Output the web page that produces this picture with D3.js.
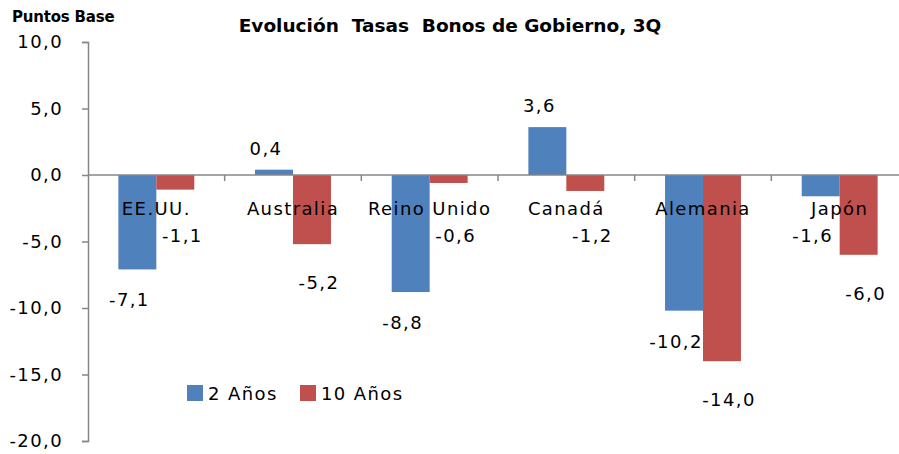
<!DOCTYPE html>
<html>
<head>
<meta charset="utf-8">
<script src="https://cdn.jsdelivr.net/npm/d3@7"></script>
<style>
  html, body { margin: 0; padding: 0; background: #fff; }
  text { font-family: "DejaVu Sans", sans-serif; fill: #000; }
</style>
</head>
<body>
<div id="chart"></div>
<script>
const categories = ["EE.UU.", "Australia", "Reino Unido", "Canadá", "Alemania", "Japón"];
const seriesNames = ["2 Años", "10 Años"];
const twoYears = [-7.1, 0.4, -8.8, 3.6, -10.2, -1.6];
const tenYears = [-1.1, -5.2, -0.6, -1.2, -14.0, -6.0];
const yTicks = [10, 5, 0, -5, -10, -15, -20];

const width = 899,
  height = 454;
const colors = ["#4F81BD", "#C0504D"];

const locale = d3.formatLocale({
  decimal: ",",
  thousands: ".",
  grouping: [3],
  currency: ["", ""],
  minus: "-",
});
const fmt = locale.format(".1f");

const svg = d3
  .select("#chart")
  .append("svg")
  .attr("width", width)
  .attr("height", height);

const x0 = d3.scaleBand().domain(categories).range([88, 908]);
const x1 = d3
  .scaleBand()
  .domain(seriesNames)
  .range([0, x0.bandwidth()])
  .paddingOuter(0.8);
const y = d3.scaleLinear().domain([-20, 10]).range([441, 42]);

const rows = categories.map((c, i) => ({
  cat: c,
  vals: [twoYears[i], tenYears[i]].map((v, j) => ({ cat: c, s: seriesNames[j], j, v })),
}));

// title
svg
  .append("text")
  .attr("x", 450)
  .attr("y", 32)
  .attr("text-anchor", "middle")
  .attr("font-size", "18.5px")
  .attr("font-weight", "bold")
  .style("white-space", "pre")
  .text("Evolución  Tasas  Bonos de Gobierno, 3Q");

svg
  .append("text")
  .attr("x", 12)
  .attr("y", 22)
  .attr("font-size", "15px")
  .attr("font-weight", "bold")
  .attr("letter-spacing", "-0.2px")
  .text("Puntos Base");

// bars
const groups = svg
  .append("g")
  .selectAll("g")
  .data(rows)
  .join("g")
  .attr("transform", (d) => `translate(${x0(d.cat)},0)`);

groups
  .selectAll("rect")
  .data((d) => d.vals)
  .join("rect")
  .attr("x", (d) => x1(d.s))
  .attr("width", x1.bandwidth())
  .attr("y", (d) => y(Math.max(0, d.v)))
  .attr("height", (d) => Math.abs(y(d.v) - y(0)))
  .attr("fill", (d) => colors[d.j]);

// y axis
const yAxis = svg
  .append("g")
  .attr("transform", "translate(88,0)")
  .call(
    d3
      .axisLeft(y)
      .tickValues(yTicks)
      .tickSize(6)
      .tickPadding(19)
      .tickFormat(fmt)
  );
yAxis.selectAll("path, line").attr("stroke", "#868686").attr("stroke-width", 1.5);
yAxis
  .selectAll("text")
  .attr("font-family", "DejaVu Sans")
  .attr("font-size", "18px")
  .attr("letter-spacing", "1.4px")
  .attr("fill", "#000");

// zero line with category ticks
const y0 = y(0);
svg
  .append("line")
  .attr("x1", x0.range()[0])
  .attr("x2", x0.range()[1])
  .attr("y1", y0)
  .attr("y2", y0)
  .attr("stroke", "#868686")
  .attr("stroke-width", 1.5);
svg
  .append("g")
  .selectAll("line")
  .data(categories.slice(1))
  .join("line")
  .attr("x1", (d) => x0(d))
  .attr("x2", (d) => x0(d))
  .attr("y1", y0)
  .attr("y2", y0 + 6)
  .attr("stroke", "#868686")
  .attr("stroke-width", 1.5);

// category labels
svg
  .append("g")
  .selectAll("text")
  .data(categories)
  .join("text")
  .attr("x", (d) => x0(d) + x0.bandwidth() / 2)
  .attr("y", y0 + 40)
  .attr("text-anchor", "middle")
  .attr("font-size", "18px")
  .attr("letter-spacing", "1.4px")
  .text((d) => d);

// data labels: negatives go below the bar end, but never above the category-label row
groups
  .selectAll("text")
  .data((d) => d.vals)
  .join("text")
  .attr("x", (d) => x1(d.s) + x1.bandwidth() / 2 + (d.j === 0 ? -8 : 7))
  .attr("y", (d) =>
    d.v >= 0
      ? y(d.v) - 15
      : Math.max(y(d.v) + (d.j === 0 ? 37 : 45), y0 + 67)
  )
  .attr("text-anchor", "middle")
  .attr("font-size", "18px")
  .attr("letter-spacing", "1.4px")
  .text((d) => fmt(d.v));

// legend
const legend = svg
  .append("g")
  .attr("transform", "translate(187,385)")
  .selectAll("g")
  .data(seriesNames)
  .join("g")
  .attr("transform", (d, i) => `translate(${i * 113},0)`);
legend
  .append("rect")
  .attr("width", 16)
  .attr("height", 16)
  .attr("fill", (d, i) => colors[i]);
legend
  .append("text")
  .attr("x", 21)
  .attr("y", 15)
  .attr("font-size", "18px")
  .attr("letter-spacing", "1.4px")
  .text((d) => d);
</script>
</body>
</html>
